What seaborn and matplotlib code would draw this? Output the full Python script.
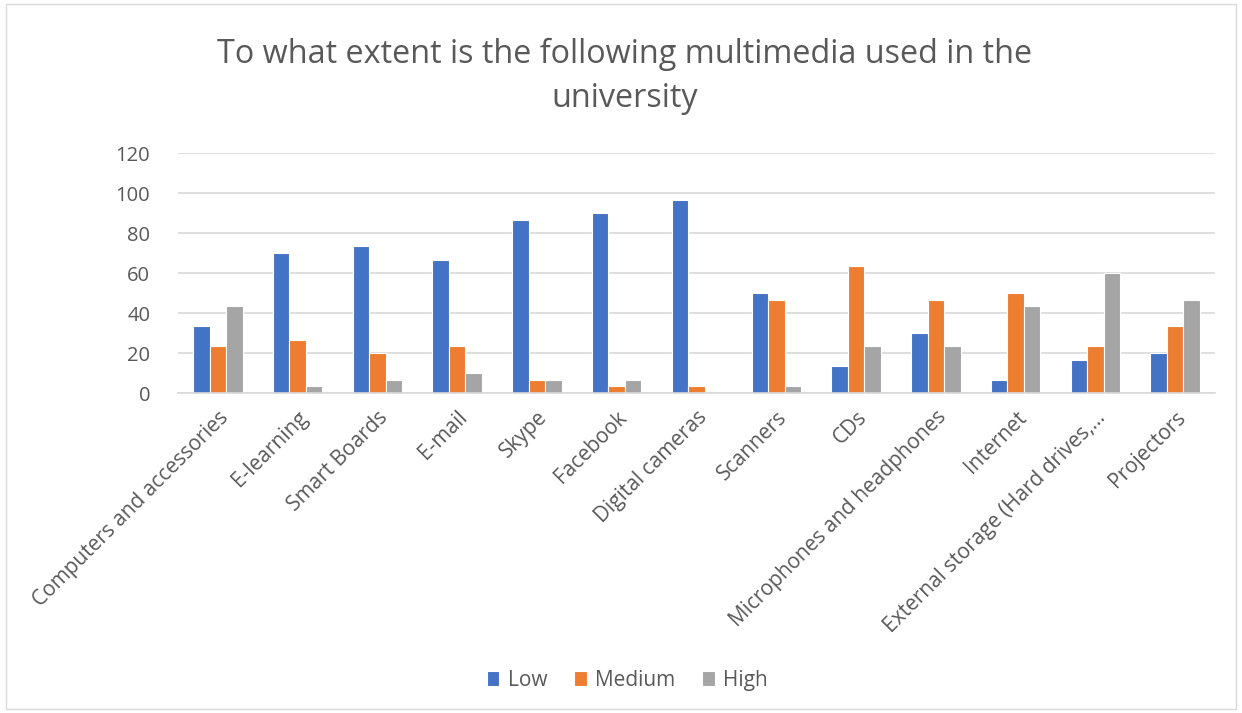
import matplotlib
matplotlib.use("Agg")
import matplotlib.pyplot as plt
import seaborn as sns
import pandas as pd
from matplotlib.patches import Rectangle

categories = [
    "Computers and accessories", "E-learning", "Smart Boards", "E-mail", "Skype",
    "Facebook", "Digital cameras", "Scanners", "CDs", "Microphones and headphones",
    "Internet", "External storage (Hard drives,...", "Projectors",
]
low = [33.3, 70.0, 73.3, 66.7, 86.7, 90.0, 96.7, 50.0, 13.3, 30.0, 6.7, 16.7, 20.0]
medium = [23.3, 26.7, 20.0, 23.3, 6.7, 3.3, 3.3, 46.7, 63.3, 46.7, 50.0, 23.3, 33.3]
high = [43.3, 3.3, 6.7, 10.0, 6.7, 6.7, 0.0, 3.3, 23.3, 23.3, 43.3, 60.0, 46.7]
levels = ["Low", "Medium", "High"]
colors = ["#4472C4", "#ED7D31", "#A5A5A5"]

df = pd.DataFrame({
    "item": categories * 3,
    "level": [l for l in levels for _ in categories],
    "value": low + medium + high,
})

sns.set_theme(style="white")
plt.rcParams["font.family"] = ["Open Sans", "DejaVu Sans"]

fig = plt.figure(figsize=(12.42, 7.13), dpi=100)
ax = fig.add_axes([0.1433, 0.4488, 0.8350, 0.3366])

sns.barplot(data=df, x="item", y="value", hue="level", hue_order=levels,
            palette=colors, width=0.62, edgecolor="white", linewidth=0.8,
            saturation=1, ax=ax)

ax.set_ylim(0, 120)
ax.set_yticks(range(0, 121, 20))
ax.set_xlim(-0.5, len(categories) - 0.5)
ax.yaxis.grid(True, color="#D9D9D9", linewidth=1.2)
ax.set_axisbelow(True)
for side in ["top", "right", "left"]:
    ax.spines[side].set_visible(False)
ax.spines["bottom"].set_color("#D9D9D9")
ax.spines["bottom"].set_linewidth(1.2)
ax.set_xlabel("")
ax.set_ylabel("")
ax.tick_params(axis="y", length=0, colors="#595959", labelsize=14.5, pad=20)
ax.tick_params(axis="x", length=0, colors="#595959", labelsize=15, pad=10)
plt.setp(ax.get_xticklabels(), rotation=45, ha="right", rotation_mode="anchor")

fig.text(0.503, 0.893, "To what extent is the following multimedia used in the\nuniversity",
         ha="center", va="center", fontsize=23.3, color="#595959", linespacing=1.45)

handles, labels = ax.get_legend_handles_labels()
ax.get_legend().remove()
fig.legend(handles, labels, loc="center", bbox_to_anchor=(0.505, 0.046), ncol=3,
           frameon=False, fontsize=15, handlelength=0.6, handleheight=0.7,
           handletextpad=0.4, columnspacing=1.3, labelcolor="#595959")

fig.patches.append(Rectangle((0.005, 0.005), 0.99, 0.99, transform=fig.transFigure,
                             fill=False, edgecolor="#D9D9D9", linewidth=1))

fig.savefig("out.png", dpi=100, facecolor="white")
